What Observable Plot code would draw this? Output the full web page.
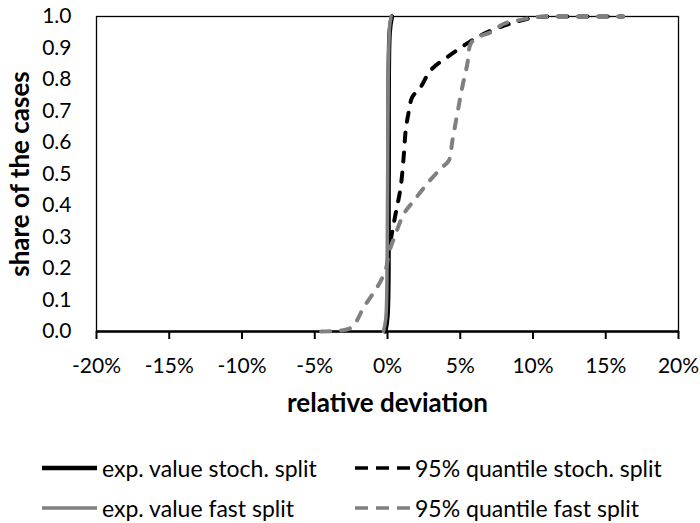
<!DOCTYPE html>
<html>
<head>
<meta charset="utf-8">
<script src="https://cdn.jsdelivr.net/npm/d3@7"></script>
<script src="https://cdn.jsdelivr.net/npm/@observablehq/plot@0.6"></script>
<style>
  html, body { margin: 0; padding: 0; background: #fff; }
  body { width: 700px; height: 523px; overflow: hidden; font-family: Lato, "Open Sans", sans-serif; }
  #chart svg { display: block; }
  .legend { position: relative; height: 83px; font-family: Lato, sans-serif; font-size: 23px; color: #000; }
  .item { position: absolute; display: flex; align-items: center; height: 30px; white-space: nowrap; }
  .item svg { display: block; margin-right: 5px; }
</style>
</head>
<body>
<div id="chart"></div>
<div class="legend" id="legend"></div>
<script>
// ---- data (x in %, y share of cases) ----
const seriesNames = ["exp. value stoch. split", "95% quantile stoch. split", "exp. value fast split", "95% quantile fast split"];
const xTicks = [-20, -15, -10, -5, 0, 5, 10, 15, 20];
const yTicks = [0, 0.1, 0.2, 0.3, 0.4, 0.5, 0.6, 0.7, 0.8, 0.9, 1.0];

const expStochX = [-0.15, 0.0, 0.08, 0.15, 0.3];
const expStochY = [0, 0.05, 0.5, 0.95, 1.0];

const q95StochX = [0.21, 0.56, 0.9, 1.13, 1.25, 1.47, 1.7, 2.28, 2.96, 4.1, 5.26, 6.4, 8.0, 9.15, 10.3, 12.5, 16.2];
const q95StochY = [0.289, 0.374, 0.457, 0.565, 0.638, 0.70, 0.744, 0.776, 0.829, 0.871, 0.908, 0.94, 0.971, 0.987, 0.998, 1.0, 1.0];

const expFastX = [-0.28, -0.12, -0.02, 0.05, 0.15, 0.25];
const expFastY = [0, 0.04, 0.25, 0.8, 0.97, 1.0];

const q95FastX = [-4.56, -3.2, -2.5, -2.1, -1.65, -1.0, -0.47, -0.1, 0.1, 0.56, 1.13, 1.82, 2.74, 3.65, 4.22, 4.46, 4.8, 5.14, 5.49, 5.72, 6.18, 7.1, 8.0, 8.9, 10.3, 12.5, 16.2];
const q95FastY = [0, 0.003, 0.012, 0.035, 0.076, 0.12, 0.16, 0.2, 0.25, 0.31, 0.374, 0.416, 0.47, 0.517, 0.543, 0.606, 0.692, 0.776, 0.85, 0.914, 0.934, 0.95, 0.977, 0.987, 0.998, 1.0, 1.0];

const toRows = (xs, ys) => xs.map((x, i) => ({x, y: ys[i]}));
const expStoch = toRows(expStochX, expStochY);
const q95Stoch = toRows(q95StochX, q95StochY);
const expFast = toRows(expFastX, expFastY);
const q95Fast = toRows(q95FastX, q95FastY);

const GREY = "#808080";
const DASH = "9,11";
const font = "Lato, 'Open Sans', sans-serif";

const plot = Plot.plot({
  width: 700,
  height: 440,
  marginLeft: 96,
  marginRight: 22,
  marginTop: 16,
  marginBottom: 109,
  style: {fontFamily: font, fontSize: "21px", color: "#000", background: "#fff"},
  x: {domain: [-20, 20]},
  y: {domain: [0, 1]},
  marks: [
    Plot.axisY({ticks: yTicks, tickSize: 0, tickPadding: 25, tickFormat: d => d.toFixed(1), label: null, fontSize: 21}),
    Plot.axisX({ticks: xTicks, tickSize: 8, tickPadding: 19, tickFormat: d => d + "%", label: null, strokeWidth: 2, fontSize: 21}),
    Plot.frame({stroke: "#000", strokeWidth: 1.3}),
    Plot.ruleY([0], {stroke: "#000", strokeWidth: 2.5}),
    Plot.line(expStoch, {x: "x", y: "y", stroke: "#000", strokeWidth: 4.5, curve: "catmull-rom"}),
    Plot.line(q95Stoch, {x: "x", y: "y", stroke: "#000", strokeWidth: 4, strokeDasharray: DASH, strokeLinecap: "round", curve: "catmull-rom"}),
    Plot.line(expFast, {x: "x", y: "y", stroke: GREY, strokeWidth: 3.5, curve: "catmull-rom"}),
    Plot.line(q95Fast, {x: "x", y: "y", stroke: GREY, strokeWidth: 4, strokeDasharray: DASH, strokeLinecap: "round", curve: "catmull-rom"}),
    Plot.text(["relative deviation"], {frameAnchor: "bottom", lineAnchor: "middle", textAnchor: "middle", dy: 72, fontWeight: "bold", fontSize: 26, fill: "#000"}),
    Plot.text(["share of the cases"], {frameAnchor: "left", lineAnchor: "middle", textAnchor: "middle", dx: -76, rotate: -90, fontWeight: "bold", fontSize: 26, fill: "#000"})
  ]
});
document.getElementById("chart").appendChild(plot);

// ---- legend ----
const legendDefs = [
  {name: seriesNames[0], color: "#000", dash: null, w: 4.5, left: 42, top: 13},
  {name: seriesNames[1], color: "#000", dash: DASH, w: 3.5, left: 355, top: 13},
  {name: seriesNames[2], color: GREY, dash: null, w: 3.5, left: 42, top: 53},
  {name: seriesNames[3], color: GREY, dash: DASH, w: 3.5, left: 355, top: 53}
];
const legend = document.getElementById("legend");
for (const d of legendDefs) {
  const item = document.createElement("div");
  item.className = "item";
  item.style.left = d.left + "px";
  item.style.top = d.top + "px";
  item.innerHTML = `<svg width="55" height="10"><line x1="0" y1="5" x2="55" y2="5" stroke="${d.color}" stroke-width="${d.w}" ${d.dash ? `stroke-dasharray="13,8"` : ""}/></svg><span>${d.name}</span>`;
  legend.appendChild(item);
}
</script>
</body>
</html>
